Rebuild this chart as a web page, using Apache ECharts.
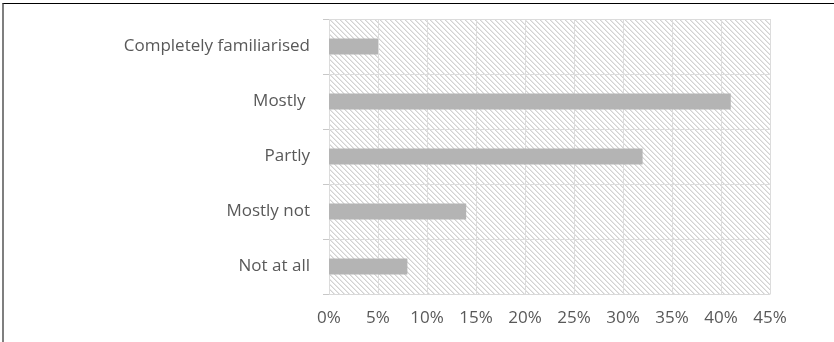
<!DOCTYPE html>
<html><head><meta charset="utf-8">
<script src="https://cdn.jsdelivr.net/npm/echarts@6/dist/echarts.min.js"></script>
<style>
html,body{margin:0;padding:0;background:#fff;}
#frame{position:absolute;left:2px;top:3px;width:832px;height:339px;border-top:1px solid #000;border-left:2px solid #7f7f7f;box-sizing:border-box;}
#chart{position:absolute;left:0;top:0;width:834px;height:342px;}
</style>
</head><body>
<div id="frame"></div>
<div id="chart"></div>
<script>
const categories = ["Not at all", "Mostly not", "Partly", "Mostly ", "Completely familiarised"];
const values = [8, 14, 32, 41, 5];
const xTicks = [0, 5, 10, 15, 20, 25, 30, 35, 40, 45];

function hatch() {
  const s = 5;
  const c = document.createElement('canvas');
  c.width = s; c.height = s;
  const g = c.getContext('2d');
  g.fillStyle = '#ffffff';
  g.fillRect(0, 0, s, s);
  for (let i = 0; i < s; i++) {
    g.fillStyle = '#d2d2d2';
    g.fillRect(i, i, 1, 1);
    g.fillStyle = '#e8e8e8';
    g.fillRect((i + 1) % s, i, 1, 1);
  }
  return c;
}

const chart = echarts.init(document.getElementById('chart'), null, {renderer: 'canvas'});
chart.setOption({
  animation: false,
  backgroundColor: 'transparent',
  grid: {
    left: 329, right: 64, top: 19, bottom: 48,
    show: true,
    backgroundColor: {image: hatch(), repeat: 'repeat'},
    borderWidth: 0
  },
  xAxis: {
    type: 'value',
    min: xTicks[0], max: xTicks[xTicks.length - 1], interval: 5,
    axisLine: {show: true, lineStyle: {color: '#d9d9d9', width: 1}},
    axisTick: {show: false},
    splitLine: {show: true, lineStyle: {color: '#dcdcdc', width: 1}},
    axisLabel: {
      formatter: v => v + '%',
      color: '#595959', fontSize: 17, fontFamily: 'Open Sans', margin: 16
    }
  },
  yAxis: {
    type: 'category',
    data: categories,
    axisLine: {show: false},
    axisTick: {show: true, length: 6, lineStyle: {color: '#c8c8c8'}},
    splitLine: {show: true, lineStyle: {color: '#dcdcdc', width: 1}},
    axisLabel: {color: '#595959', fontSize: 17, fontFamily: 'Open Sans', margin: 19}
  },
  series: [{
    type: 'bar',
    data: values,
    barWidth: 16,
    itemStyle: {color: '#b4b4b4'}
  }]
});
</script>
</body></html>
